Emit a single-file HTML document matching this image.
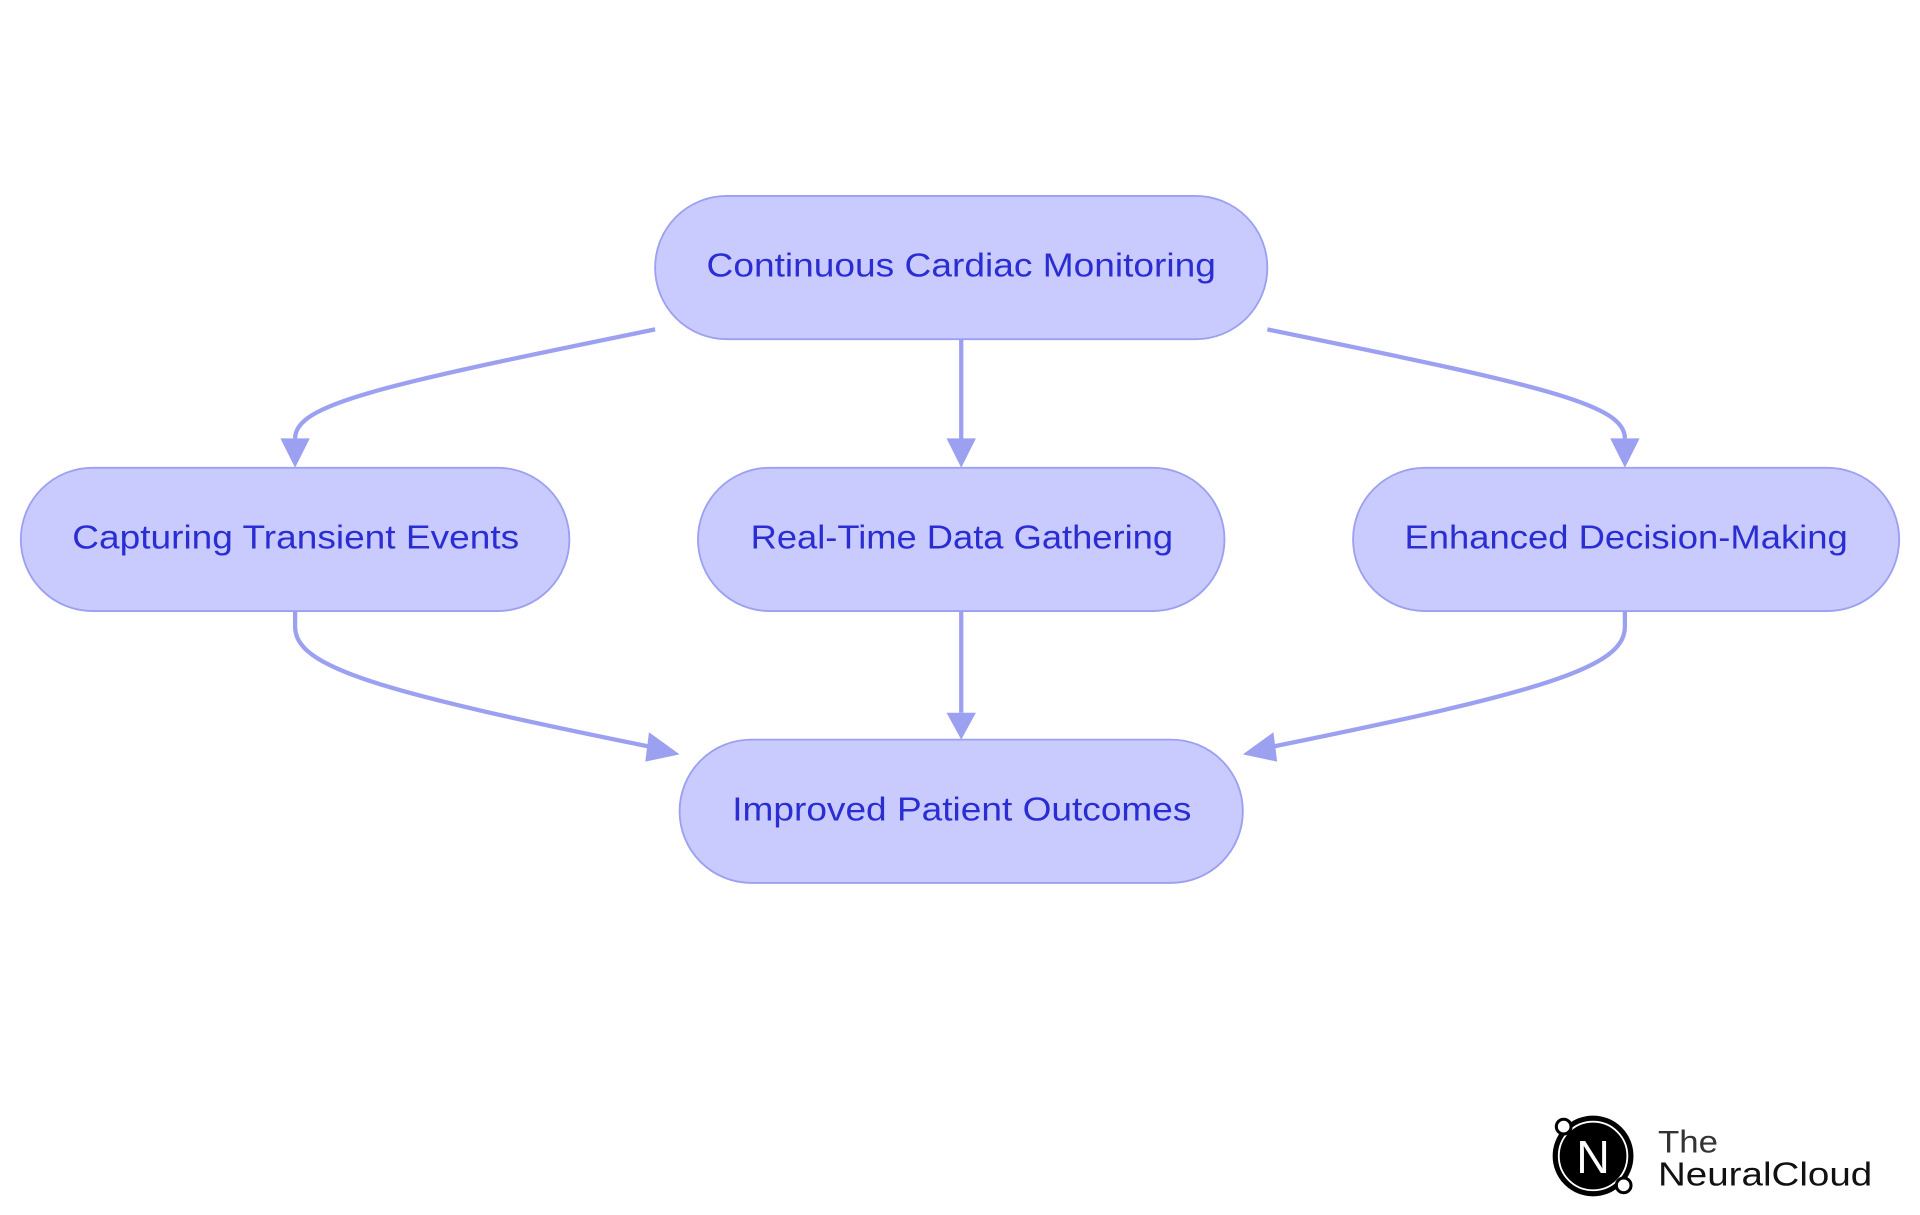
<!DOCTYPE html>
<html><head><meta charset="utf-8"><style>
html,body{margin:0;padding:0;background:#fff;width:1920px;height:1215px;overflow:hidden}
svg{display:block}
text{font-family:"Liberation Sans",sans-serif}
</style></head><body>
<svg width="1920" height="1215" viewBox="0 0 1568 992.2" preserveAspectRatio="none" xmlns="http://www.w3.org/2000/svg">
<g fill="none" stroke="#9ca0f1" stroke-width="3.5">
<path d="M535,269 C310,315 241,330 241,358"/>
<path d="M785,277 L785,360"/>
<path d="M1035,269 C1260,315 1327,330 1327,358"/>
<path d="M241,499 L241,512 C241,545 310,565 532,610"/>
<path d="M785,499 L785,582"/>
<path d="M1327,499 L1327,512 C1327,545 1260,565 1038,610"/>
</g>
<g fill="#9ca0f1">
<polygon points="229,358 253,358 241,382"/>
<polygon points="773,358 797,358 785,382"/>
<polygon points="1315,358 1339,358 1327,382"/>
<polygon points="773,582 797,582 785,604"/>
<polygon points="530,598 555,616 527,622"/>
<polygon points="1040,598 1015,616 1043,622"/>
</g>
<g fill="#c9cafd" stroke="#9ca0f1" stroke-width="1.5">
<rect x="535" y="160" width="500" height="117" rx="58.5"/>
<rect x="17" y="382" width="448" height="117" rx="58.5"/>
<rect x="570" y="382" width="430" height="117" rx="58.5"/>
<rect x="1105" y="382" width="446" height="117" rx="58.5"/>
<rect x="555" y="604" width="460" height="117" rx="58.5"/>
</g>
<g fill="#2a2ed2" font-size="27" lengthAdjust="spacingAndGlyphs">
<text x="577" y="226" textLength="416" lengthAdjust="spacingAndGlyphs">Continuous Cardiac Monitoring</text>
<text x="59" y="448" textLength="365" lengthAdjust="spacingAndGlyphs">Capturing Transient Events</text>
<text x="613" y="448" textLength="345" lengthAdjust="spacingAndGlyphs">Real-Time Data Gathering</text>
<text x="1147" y="448" textLength="362" lengthAdjust="spacingAndGlyphs">Enhanced Decision-Making</text>
<text x="598" y="670" textLength="375" lengthAdjust="spacingAndGlyphs">Improved Patient Outcomes</text>
</g>
<circle cx="1301" cy="944" r="32" fill="#000" stroke="#000" stroke-width="2"/>
<circle cx="1301" cy="944" r="28" fill="none" stroke="#fff" stroke-width="1.5"/>
<text x="1301" y="958" fill="#fff" font-size="38" text-anchor="middle">N</text>
<circle cx="1277" cy="920" r="6" fill="#fff" stroke="#000" stroke-width="2.5"/>
<circle cx="1326" cy="968" r="6" fill="#fff" stroke="#000" stroke-width="2.5"/>
<text x="1354" y="941" font-size="26" fill="#333" textLength="49" lengthAdjust="spacingAndGlyphs">The</text>
<text x="1354" y="968" font-size="27" fill="#111" textLength="175" lengthAdjust="spacingAndGlyphs">NeuralCloud</text>
</svg>
</body></html>
